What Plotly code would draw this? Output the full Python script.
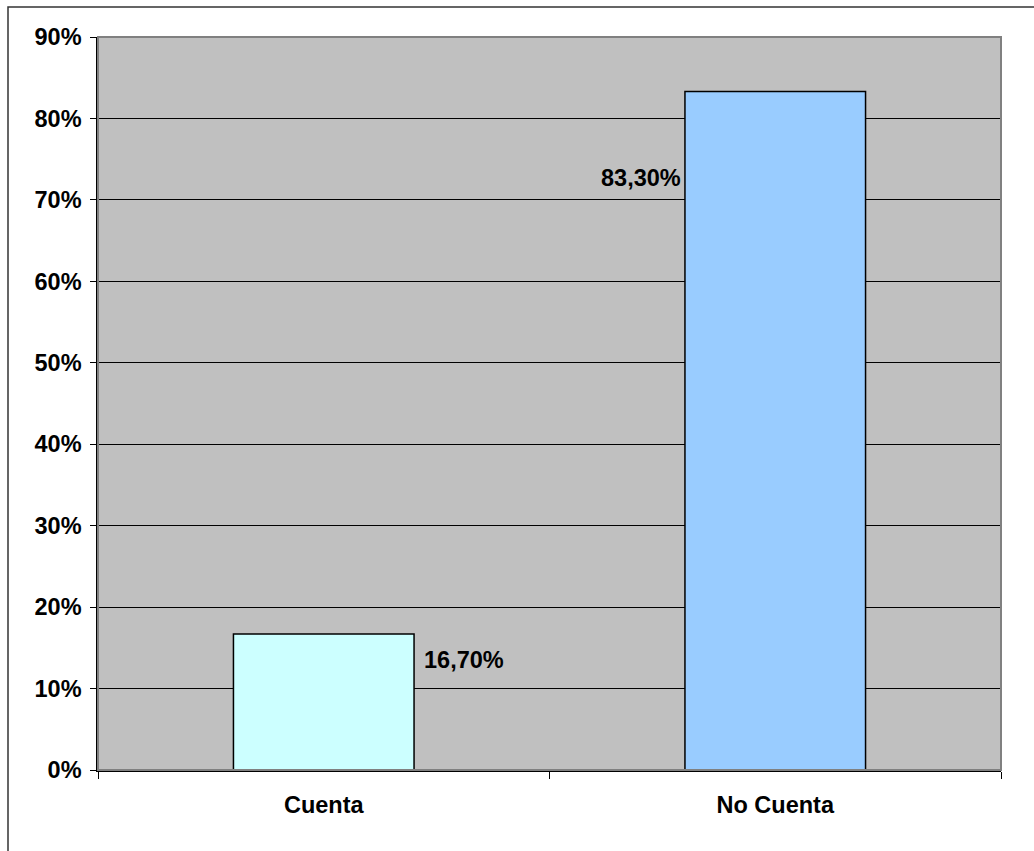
import plotly.graph_objects as go

categories = ["Cuenta", "No Cuenta"]
values = [0.167, 0.833]
value_labels = ["16,70%", "83,30%"]
bar_colors = ["#CCFFFF", "#99CCFF"]
y_ticks = [0, 0.1, 0.2, 0.3, 0.4, 0.5, 0.6, 0.7, 0.8, 0.9]
y_tick_labels = ["0%", "10%", "20%", "30%", "40%", "50%", "60%", "70%", "80%", "90%"]

FONT = "Liberation Sans, Arial, sans-serif"
FS = 23.5

fig = go.Figure()
fig.add_trace(go.Bar(
    x=categories, y=values,
    marker=dict(color=bar_colors, line=dict(color="black", width=1.5)),
    width=0.4, hoverinfo="skip"
))

# label placement (Excel-style, beside the bars)
label_xshift = [98, -92]
label_xanchor = ["left", "right"]
label_yshift = [-26, -86]
for c, v, t, xs, xa, ys in zip(categories, values, value_labels, label_xshift, label_xanchor, label_yshift):
    fig.add_annotation(x=c, y=v, text="<b>%s</b>" % t, showarrow=False,
                       xshift=xs, xanchor=xa,
                       yshift=ys, yanchor="middle",
                       font=dict(family=FONT, size=FS, color="black"))

# plot-area border (grey) and outer chart border
fig.add_shape(type="rect", xref="paper", yref="paper", x0=0, x1=1, y0=0, y1=1,
              line=dict(color="#808080", width=2), layer="above")
fig.add_shape(type="rect", xref="paper", yref="paper",
              x0=(8 - 98) / 903, x1=(1036 - 98) / 903, y0=-0.3, y1=(770 - 7) / 733,
              line=dict(color="#333333", width=1.5), layer="above")

fig.update_layout(
    width=1034, height=851,
    margin=dict(l=98, r=33, t=37, b=81),
    paper_bgcolor="white", plot_bgcolor="#C0C0C0",
    showlegend=False, bargap=0.6,
    font=dict(family=FONT, size=FS, color="black"),
)
fig.update_xaxes(
    type="category", showline=True, linecolor="black", linewidth=1.5,
    ticks="outside", ticklen=7, tickcolor="black", tickson="boundaries",
    tickfont=dict(family=FONT, size=FS, color="black", weight="bold"),
    showgrid=False, ticklabelstandoff=13,
)
fig.update_yaxes(
    range=[0, 0.9], tickvals=y_ticks, ticktext=y_tick_labels,
    showline=True, linecolor="black", linewidth=1.5,
    ticks="outside", ticklen=6, tickcolor="black",
    showgrid=True, gridcolor="black", gridwidth=1, zeroline=False,
    tickfont=dict(family=FONT, size=FS, color="black", weight="bold"),
    ticklabelstandoff=4,
)

fig.write_html("out.html")
